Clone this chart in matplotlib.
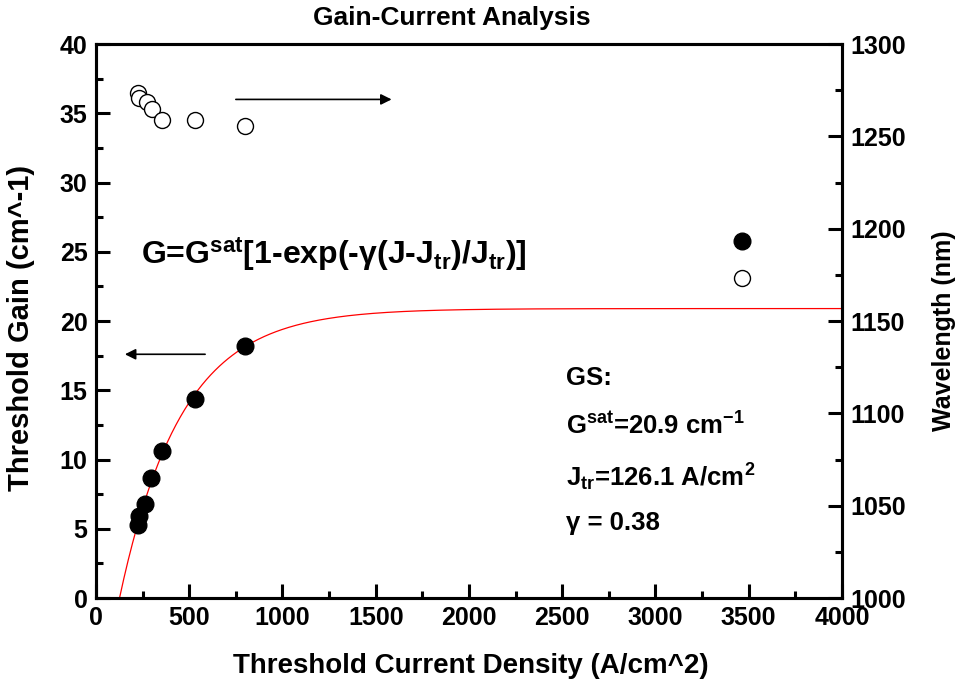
import numpy as np
import matplotlib
matplotlib.use("Agg")
import matplotlib.pyplot as plt

plt.rcParams['font.family'] = ['Liberation Sans', 'DejaVu Sans']
plt.rcParams['font.weight'] = 'bold'
plt.rcParams['mathtext.default'] = 'regular'

# Data
J_gain = [223, 232, 263, 295, 356, 532, 799, 3465]
gain = [5.25, 5.9, 6.8, 8.7, 10.6, 14.4, 18.2, 25.8]
J_wl = [227, 232, 272, 298, 354, 531, 799, 3465]
wavelength = [1273.5, 1270.5, 1268.5, 1265.0, 1259.0, 1259.0, 1255.5, 1173.5]

# Fit parameters (from annotation)
G_sat = 20.9
J_tr = 126.1
gamma = 0.38

fig = plt.figure(figsize=(9.6, 6.93), dpi=100)
ax = fig.add_axes([0.1, 0.137, 0.777, 0.7995])
ax2 = ax.twinx()

J_fit = np.linspace(J_tr, 4000, 500)
G_fit = G_sat * (1 - np.exp(-gamma * (J_fit - J_tr) / J_tr))
ax.plot(J_fit, G_fit, color='red', lw=0.9, zorder=2)
ax.plot(J_gain, gain, 'o', color='black', ms=12, zorder=3)
ax2.plot(J_wl, wavelength, 'o', mfc='white', mec='black', mew=1.0, ms=11.5, zorder=3)

ax.set_xlim(0, 4000)
ax.set_ylim(0, 40)
ax2.set_ylim(1000, 1300)
ax.set_xticks(np.arange(0, 4001, 500))
ax.set_xticks(np.arange(250, 4000, 500), minor=True)
ax.set_yticks(np.arange(0, 41, 5))
ax.set_yticks(np.arange(2.5, 40, 5), minor=True)
ax2.set_yticks(np.arange(1000, 1301, 50))
ax2.set_yticks(np.arange(1025, 1300, 50), minor=True)

for a in (ax, ax2):
    for s in a.spines.values():
        s.set_linewidth(2.2)
ax.tick_params(axis='both', which='major', direction='in', length=10, width=2.2,
               labelsize=18, pad=6, top=False, right=False)
ax.tick_params(axis='both', which='minor', direction='in', length=5, width=2.2,
               top=False, right=False)
ax2.tick_params(axis='y', which='major', direction='in', length=10, width=2.2,
                labelsize=18, pad=6)
ax2.tick_params(axis='y', which='minor', direction='in', length=5, width=2.2)
for lab in ax.get_xticklabels() + ax.get_yticklabels() + ax2.get_yticklabels():
    lab.set_fontweight('bold')

ax.set_xlabel('Threshold Current Density (A/cm^2)', fontsize=20, fontweight='bold')
ax.xaxis.set_label_coords(0.502, -0.1)
ax.set_ylabel('Threshold Gain (cm^-1)', fontsize=21, fontweight='bold')
ax.yaxis.set_label_coords(-0.082, 0.488)
ax2.set_ylabel('Wavelength (nm)', fontsize=18, fontweight='bold')
ax2.yaxis.set_label_coords(1.121, 0.483)
fig.text(452 / 960, 1 - 18 / 693, 'Gain-Current Analysis', fontsize=19,
         fontweight='bold', ha='center', va='center')

# Arrows
ax.annotate('', xy=(140, 17.6), xytext=(600, 17.6),
            arrowprops=dict(arrowstyle='-|>', color='black', lw=1.2, mutation_scale=16))
ax.annotate('', xy=(1600, 36.0), xytext=(735, 36.0),
            arrowprops=dict(arrowstyle='-|>', color='black', lw=1.2, mutation_scale=16))

# Formula
ax.text(240, 24.8, r'G=G$^{\mathregular{sat}}$[1-exp(-γ(J-J$_{\mathregular{tr}}$)/J$_{\mathregular{tr}}$)]',
        fontsize=23, fontweight='bold', va='center', ha='left')

# Parameters
ax.text(2520, 15.9, 'GS:', fontsize=18.5, fontweight='bold', va='center')
ax.text(2520, 12.4, r'G$^{\mathregular{sat}}$=20.9 cm$^{\mathregular{-1}}$', fontsize=18.5, fontweight='bold', va='center')
ax.text(2520, 8.7, r'J$_{\mathregular{tr}}$=126.1 A/cm$^{\mathregular{2}}$', fontsize=18.5, fontweight='bold', va='center')
ax.text(2520, 5.4, 'γ = 0.38', fontsize=18.5, fontweight='bold', va='center')

fig.savefig('out.png', dpi=100)
